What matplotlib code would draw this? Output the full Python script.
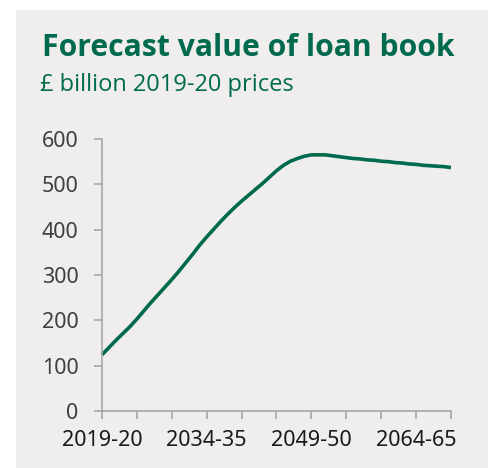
import matplotlib
matplotlib.use("Agg")
import matplotlib.pyplot as plt
from matplotlib.patches import Rectangle

# ---- data ----
years = [f"{y}-{(y + 1) % 100:02d}" for y in range(2019, 2070)]
loan_book = [124, 140, 156, 171, 186, 203, 221, 239, 256, 273,
             290, 308, 327, 346, 366, 384, 401, 418, 434, 449,
             463, 476, 489, 502, 516, 530, 542, 551, 557, 562,
             565, 565, 565, 563, 561, 559, 557, 556, 554, 553,
             551, 550, 548, 547, 545, 544, 542, 541, 540, 539, 537]
tick_labels = ["2019-20", "2034-35", "2049-50", "2064-65"]
y_ticks = [0, 100, 200, 300, 400, 500, 600]

title = "Forecast value of loan book"
subtitle = "£ billion 2019-20 prices"

GREEN = "#006a4e"
BG = "#efeeec"
SPINE = "#a6a6a6"

W, H = 489, 468
fig = plt.figure(figsize=(W / 100, H / 100), dpi=100)
fig.patch.set_facecolor("white")
fig.patches.append(Rectangle((16 / W, 0), 1 - 16 / W, 1 - 10 / H,
                             transform=fig.transFigure, facecolor=BG,
                             edgecolor="none", zorder=-10))

ax = fig.add_axes([102 / W, 1 - 411 / H, (451 - 102) / W, (411 - 139) / H])
ax.set_facecolor("none")
x = list(range(len(years)))
ax.plot(x, loan_book, color=GREEN, lw=2.6, solid_capstyle="butt", clip_on=False)

ax.set_xlim(0, len(years) - 1)
ax.set_ylim(0, 600)
ax.set_yticks(y_ticks)
ax.set_yticklabels([str(v) for v in y_ticks])
ax.set_xticks(range(0, len(years), 5))
lab = [years[i] if years[i] in tick_labels else "" for i in range(0, len(years), 5)]
ax.set_xticklabels(lab)

for s in ["top", "right"]:
    ax.spines[s].set_visible(False)
for s in ["left", "bottom"]:
    ax.spines[s].set_color(SPINE)
    ax.spines[s].set_linewidth(1.2)

ax.tick_params(axis="y", direction="out", length=6, width=1.2, color=SPINE,
               pad=11, labelsize=15.5, labelcolor="#404040")
ax.tick_params(axis="x", direction="out", length=6, width=1.2, color=SPINE,
               pad=8, labelsize=15.5, labelcolor="#1a1a1a")
for t in ax.get_xticklabels() + ax.get_yticklabels():
    t.set_family("Noto Sans")

fig.text(42 / W, 1 - 56 / H, title, fontsize=21.7, fontweight="bold",
         color=GREEN, family="Open Sans", va="baseline", ha="left")
fig.text(40 / W, 1 - 91 / H, subtitle, fontsize=17, color=GREEN,
         family="Open Sans", va="baseline", ha="left")

fig.savefig("out.png", dpi=100, facecolor="white")
